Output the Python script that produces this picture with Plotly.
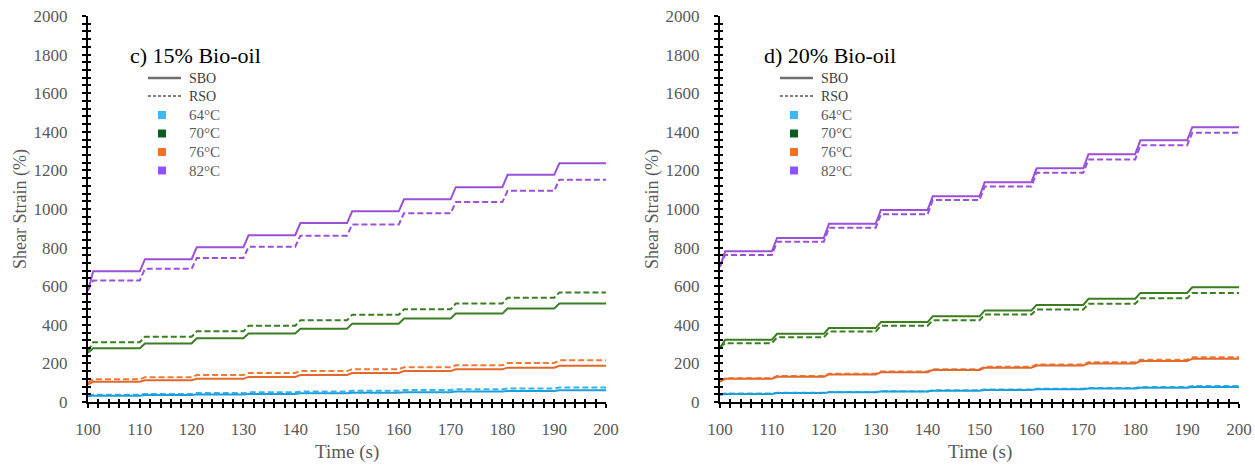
import plotly.graph_objects as go

# ---------------- data ----------------
cycle_start_s = [100, 110, 120, 130, 140, 150, 160, 170, 180, 190]
test_end_s = 200
creep_s = 1
temps = ["64°C", "70°C", "76°C", "82°C"]
x_ticks = [100, 110, 120, 130, 140, 150, 160, 170, 180, 190, 200]
y_ticks = [0, 200, 400, 600, 800, 1000, 1200, 1400, 1600, 1800, 2000]

# first value = strain at t=100 s, then plateau after each 10 s creep-recovery cycle
# --- c) 15% bio-oil ---
b15_sbo_64 = [30, 33, 36, 39, 42, 45, 48, 51, 54, 57, 61]
b15_rso_64 = [33, 38, 42, 46, 50, 54, 58, 62, 66, 70, 75]
b15_sbo_70 = [255, 278, 303, 330, 355, 380, 406, 432, 458, 484, 510]
b15_rso_70 = [265, 310, 338, 366, 395, 423, 452, 480, 510, 540, 568]
b15_sbo_76 = [92, 105, 113, 120, 130, 140, 150, 160, 170, 178, 188]
b15_rso_76 = [100, 118, 128, 140, 150, 160, 170, 180, 190, 202, 216]
b15_sbo_82 = [575, 677, 740, 802, 864, 927, 988, 1050, 1113, 1177, 1237]
b15_rso_82 = [580, 630, 690, 746, 804, 862, 920, 978, 1036, 1094, 1152]
# --- d) 20% bio-oil ---
b20_sbo_64 = [38, 42, 46, 50, 54, 58, 62, 66, 70, 74, 78]
b20_rso_64 = [40, 44, 48, 52, 56, 61, 65, 69, 73, 78, 83]
b20_sbo_70 = [280, 323, 353, 383, 414, 444, 474, 503, 535, 565, 594]
b20_rso_70 = [285, 305, 335, 365, 395, 423, 453, 479, 509, 537, 565]
b20_sbo_76 = [105, 120, 131, 143, 154, 166, 177, 189, 200, 212, 224]
b20_rso_76 = [108, 123, 135, 147, 158, 170, 182, 194, 206, 219, 232]
b20_sbo_82 = [700, 781, 850, 923, 995, 1066, 1139, 1211, 1284, 1356, 1424]
b20_rso_82 = [705, 762, 830, 903, 973, 1047, 1116, 1188, 1257, 1330, 1395]

panels = [
    ("c) 15% Bio-oil",
     [b15_sbo_64, b15_sbo_70, b15_sbo_76, b15_sbo_82],
     [b15_rso_64, b15_rso_70, b15_rso_76, b15_rso_82]),
    ("d) 20% Bio-oil",
     [b20_sbo_64, b20_sbo_70, b20_sbo_76, b20_sbo_82],
     [b20_rso_64, b20_rso_70, b20_rso_76, b20_rso_82]),
]

# ---------------- styling ----------------
W, H = 1255, 467
line_colors = ["#1C9EDB", "#3B7E22", "#E2692B", "#9A50D8"]
rso_colors = ["#3AB2EA", "#3B7E22", "#EE7A38", "#9A50D8"]
legend_colors = ["#3DB8F5", "#0E5C1C", "#EE7128", "#8C52FF"]
FONT = "Liberation Serif, Times New Roman, serif"
GREY = "#595959"

# plot areas in pixels: (left, right) ; y top/bottom shared
areas = [(88, 606), (720, 1239)]
top_px, bot_px = 16, 402


def px_x(p):
    return p / W


def px_y(p):
    return 1 - p / H


def staircase(levels):
    xs = [cycle_start_s[0]]
    ys = [levels[0]]
    for k, t in enumerate(cycle_start_s):
        t_next = cycle_start_s[k + 1] if k + 1 < len(cycle_start_s) else test_end_s
        xs += [t + creep_s, t_next]
        ys += [levels[k + 1], levels[k + 1]]
    return xs, ys


def note(text, xp, yp, size, color, xanchor="center", angle=0):
    return dict(text=text, x=px_x(xp), y=px_y(yp), xref="paper", yref="paper",
                xanchor=xanchor, yanchor="middle", showarrow=False, textangle=angle,
                font=dict(family=FONT, size=size, color=color))


fig = go.Figure()
annotations = []
shapes = []

for i, (title, sbo, rso) in enumerate(panels):
    n = 2 * i + 1
    xa = "x" if n == 1 else f"x{n}"
    ya = "y" if n == 1 else f"y{n}"
    xo, yo = f"x{n + 1}", f"y{n + 1}"   # overlay axes for inward half of the crossing ticks
    for j in range(4):
        xs, ys = staircase(rso[j])
        fig.add_trace(go.Scatter(x=xs, y=ys, mode="lines", xaxis=xa, yaxis=ya,
                                 line=dict(color=rso_colors[j], width=2, dash="6px,3px"),
                                 showlegend=False, hoverinfo="skip"))
        xs, ys = staircase(sbo[j])
        fig.add_trace(go.Scatter(x=xs, y=ys, mode="lines", xaxis=xa, yaxis=ya,
                                 line=dict(color=line_colors[j], width=2),
                                 showlegend=False, hoverinfo="skip"))
    fig.add_trace(go.Scatter(x=[], y=[], xaxis=xo, yaxis=yo, showlegend=False, hoverinfo="skip"))

    left, right = areas[i]
    axis_common = dict(showline=True, linecolor="black", linewidth=2, automargin=False,
                       ticks="outside", ticklen=4, tickwidth=1.5, tickcolor="black",
                       showgrid=False, zeroline=False,
                       tickfont=dict(family=FONT, size=17, color=GREY))
    inner_common = dict(showline=False, automargin=False, ticks="inside", ticklen=3,
                        tickwidth=1.5, tickcolor="black", showgrid=False, zeroline=False,
                        showticklabels=False)
    xdom = [px_x(left), px_x(right)]
    ydom = [px_y(bot_px), px_y(top_px)]
    xkey = "xaxis" if n == 1 else f"xaxis{n}"
    ykey = "yaxis" if n == 1 else f"yaxis{n}"
    fig.update_layout(**{
        xkey: dict(axis_common, domain=xdom, range=[100, 200],
                   tickvals=x_ticks, anchor=ya, ticklabelstandoff=7,
                   minor=dict(dtick=2, ticks="outside", ticklen=4, tickcolor="black", tickwidth=1.5)),
        ykey: dict(axis_common, domain=ydom, range=[0, 2000],
                   tickvals=y_ticks, anchor=xa, ticklabelstandoff=11,
                   minor=dict(dtick=40, ticks="outside", ticklen=4, tickcolor="black", tickwidth=1.5)),
        f"xaxis{n + 1}": dict(inner_common, domain=xdom, range=[100, 200], overlaying=xa,
                              tickvals=x_ticks, anchor=yo,
                              minor=dict(dtick=2, ticks="inside", ticklen=3, tickcolor="black", tickwidth=1.5)),
        f"yaxis{n + 1}": dict(inner_common, domain=ydom, range=[0, 2000], overlaying=ya,
                              tickvals=y_ticks, anchor=xo,
                              minor=dict(dtick=40, ticks="inside", ticklen=3, tickcolor="black", tickwidth=1.5)),
    })

    # axis titles
    annotations.append(note("Shear Strain (%)", left - 68, (top_px + bot_px) / 2, 18, GREY, angle=-90))
    annotations.append(note("Time (s)", (left + right) / 2, 452, 19, GREY))
    # panel title
    tx = left + 40 if i == 0 else left + 42
    annotations.append(note(title, tx, 55, 22, "black", xanchor="left"))

    # custom legend
    lx0 = left + 60
    lx1 = left + 93
    text_x = left + 99
    sq_x = left + 74
    shapes.append(dict(type="line", xref="paper", yref="paper",
                       x0=px_x(lx0), x1=px_x(lx1), y0=px_y(78), y1=px_y(78),
                       line=dict(color="#6F6F6F", width=2.5)))
    shapes.append(dict(type="line", xref="paper", yref="paper",
                       x0=px_x(lx0), x1=px_x(lx1), y0=px_y(96), y1=px_y(96),
                       line=dict(color="black", width=1, dash="3px,2px")))
    annotations.append(note("SBO", text_x, 78, 14, "#404040", xanchor="left"))
    annotations.append(note("RSO", text_x, 96, 14, "#404040", xanchor="left"))
    for j, t in enumerate(temps):
        yc = 115 + j * 18.5
        shapes.append(dict(type="rect", xref="paper", yref="paper",
                           x0=px_x(sq_x - 4), x1=px_x(sq_x + 4), y0=px_y(yc + 4), y1=px_y(yc - 4),
                           fillcolor=legend_colors[j], line=dict(width=0)))
        annotations.append(note(t, text_x, yc, 15, GREY, xanchor="left"))

fig.update_layout(width=W, height=H, margin=dict(l=0, r=0, t=0, b=0, pad=0),
                  paper_bgcolor="white", plot_bgcolor="white",
                  annotations=annotations, shapes=shapes, showlegend=False)

fig.write_html("out.html")
